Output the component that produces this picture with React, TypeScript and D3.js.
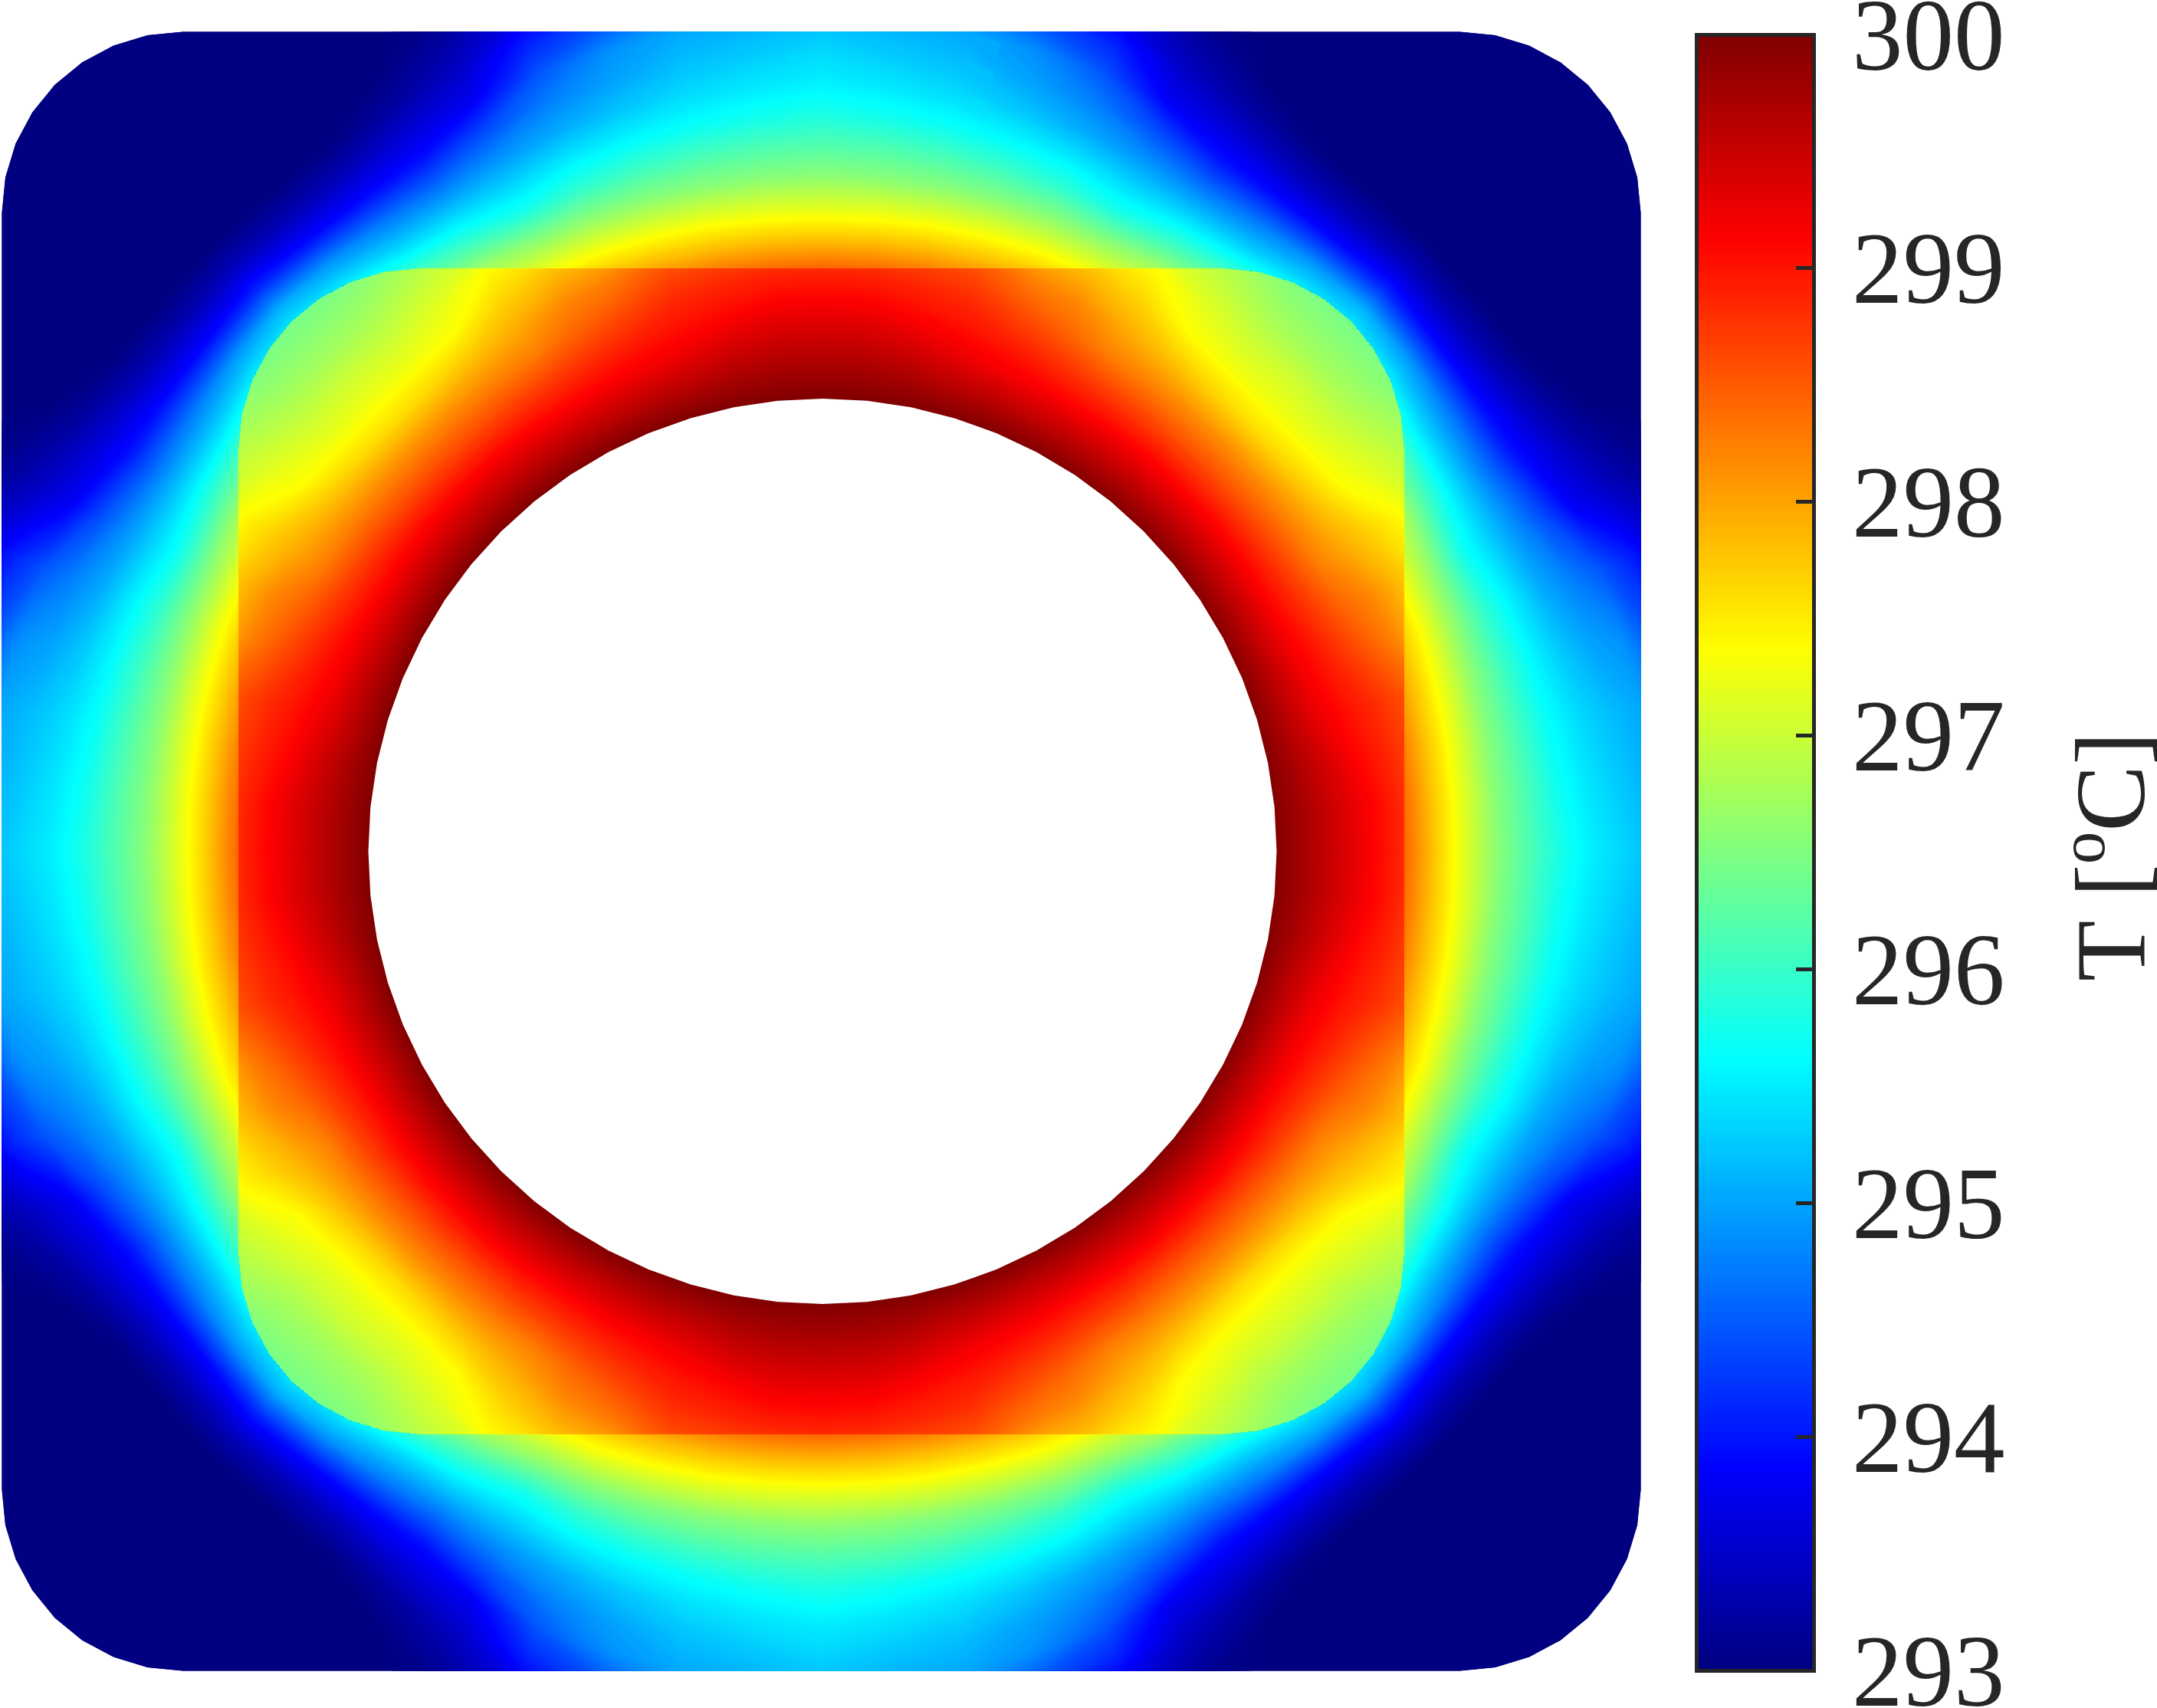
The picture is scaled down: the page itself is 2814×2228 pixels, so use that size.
// App.tsx - temperature field around a heated pipe in a rounded square, jet colormap
import React, { useMemo } from "react";
import * as d3 from "d3";

const WIDTH = 2814;
const HEIGHT = 2228;
const CX = 1071.5;
const CY = 1110.5;

// jet colormap, temperature stops and their colours
const jetStops = [293, 293.875, 295.625, 297.375, 299.125, 300];
const jetColors = ["#000080", "#0000ff", "#00ffff", "#ffff00", "#ff0000", "#800000"];

const colorbarTicks = [293, 294, 295, 296, 297, 298, 299, 300];

// angle from the nearest axis (degrees), the field repeats every 90 and mirrors at 45
const foldAngles = [0, 5, 10, 15, 20, 25, 30, 35, 40, 45];

// temperature, inside the rounded square. one row per radius
const innerRadii = [560, 590, 630, 670, 710, 750, 790, 830, 870, 910, 950, 990];
const innerField = [
  [300, 300, 300, 300, 300, 300, 300, 300, 300, 300],
  [300, 300, 300, 300, 300, 300, 300, 300, 300, 300],
  [299.74, 299.74, 299.7, 299.62, 299.6, 299.55, 299.55, 299.55, 299.55, 299.55],
  [299.47, 299.47, 299.4, 299.28, 299.2, 299.15, 299.1, 299.1, 299.1, 299.08],
  [299.2, 299.2, 299.1, 299.02, 298.92, 298.8, 298.7, 298.65, 298.6, 298.6],
  [298.93, 298.92, 298.87, 298.82, 298.62, 298.45, 298.25, 298.2, 298.15, 298.13],
  [298.6, 298.6, 298.6, 298.55, 298.3, 298.2, 297.95, 297.78, 297.65, 297.6],
  [298.3, 298.3, 298.25, 298.2, 297.9, 297.85, 297.68, 297.38, 297.28, 297.27],
  [298, 298, 297.95, 297.85, 297.6, 297.5, 297.42, 297.18, 297.03, 297.05],
  [297.7, 297.7, 297.65, 297.5, 297.3, 297.2, 297.1, 296.95, 296.78, 296.75],
  [297.4, 297.4, 297.35, 297.2, 297, 296.9, 296.85, 296.75, 296.58, 296.55],
  [297.1, 297.1, 297, 296.9, 296.7, 296.6, 296.55, 296.55, 296.4, 296.4],
];

// temperature outside the rounded square
const outerRadii = [720, 760, 800, 840, 880, 920, 960, 1000, 1040, 1080, 1120, 1160, 1200, 1240, 1280, 1460];
const outerField = [
  [299, 299, 299, 299, 299, 299, 299, 299, 299, 299],
  [298.45, 298.45, 298.45, 298.45, 298.45, 298.45, 298.45, 298.45, 298.45, 298.45],
  [297.77, 297.78, 297.8, 297.82, 297.85, 297.88, 297.9, 297.9, 297.9, 297.9],
  [297.16, 297.18, 297.2, 297.22, 297.25, 297.25, 297.25, 297.25, 297.25, 297.25],
  [296.6, 296.58, 296.57, 296.57, 296.57, 296.55, 296.7, 296.7, 296.7, 296.7],
  [296.19, 296.17, 296.12, 296.05, 295.95, 295.78, 295.95, 296.1, 296.3, 296.3],
  [295.82, 295.75, 295.68, 295.6, 295.5, 295.32, 295.3, 295.35, 295.6, 295.68],
  [295.55, 295.48, 295.4, 295.25, 295.05, 294.85, 294.65, 294.7, 294.9, 295.1],
  [295.37, 295.28, 295.2, 295, 294.75, 294.35, 294, 293.92, 293.93, 294.1],
  [295.2, 295.1, 295.05, 294.85, 294.45, 293.78, 293.6, 293.4, 293.35, 293.42],
  [295, 294.9, 294.75, 294.4, 294.1, 293.5, 293.22, 293.03, 293, 293],
  [294.8, 294.6, 294.4, 294, 293.7, 293.25, 293.02, 293, 293, 293],
  [294.6, 294.3, 294, 293.7, 293.4, 293.08, 293, 293, 293, 293],
  [294.4, 294, 293.7, 293.4, 293.1, 293, 293, 293, 293, 293],
  [294.2, 293.8, 293.4, 293.1, 293, 293, 293, 293, 293, 293],
  [293, 293, 293, 293, 293, 293, 293, 293, 293, 293],
];

const color = d3.scaleLinear<string>().domain(jetStops).range(jetColors).clamp(true);
const levels = d3.range(292.98, 300, 0.02);

// contour a polar table with d3, then bend the contours round the centre
function polarBands(radii: number[], field: number[][]) {
  const step = foldAngles[1] - foldAngles[0];
  const angles = d3.range(0, 375, step);
  const values: number[] = [];
  radii.forEach((_, j) => {
    angles.forEach((a) => {
      const q = a % 90;
      const fold = Math.min(q, 90 - q);
      values.push(field[j][foldAngles.indexOf(fold)]);
    });
  });
  const rScale = d3.scaleLinear().domain(d3.range(radii.length)).range(radii);
  const toPixel = d3.geoTransform({
    point(x: number, y: number) {
      const a = ((x - 0.5) * step * Math.PI) / 180;
      const r = rScale(y - 0.5);
      this.stream.point(CX + r * Math.sin(a), CY - r * Math.cos(a));
    },
  });
  const path = d3.geoPath(toPixel);
  return d3
    .contours()
    .size([angles.length, radii.length])
    .thresholds(levels)(values)
    .map((c) => ({ value: c.value, d: path(c) || "" }))
    .filter((b) => b.d);
}

// the mesh makes the round corners into short straight pieces
function roundedSquare(half: number, radius: number, pieces: number) {
  const pts: [number, number][] = [];
  [[1, -1, -90], [1, 1, 0], [-1, 1, 90], [-1, -1, 180]].forEach(([sx, sy, start]) => {
    d3.range(pieces + 1).forEach((k) => {
      const a = ((start + (k * 90) / pieces) * Math.PI) / 180;
      pts.push([
        CX + sx * (half - radius) + radius * Math.cos(a),
        CY + sy * (half - radius) + radius * Math.sin(a),
      ]);
    });
  });
  return d3.line()(pts) + "Z";
}

function holePolygon(cx: number, rx: number, ry: number, sides: number) {
  const pts = d3.range(sides).map((k): [number, number] => {
    const a = (k / sides) * 2 * Math.PI;
    return [cx + rx * Math.cos(a), CY + ry * Math.sin(a)];
  });
  return d3.line()(pts) + "Z";
}

export default function App() {
  const outerBands = useMemo(() => polarBands(outerRadii, outerField), []);
  const innerBands = useMemo(() => polarBands(innerRadii, innerField), []);

  const barY = d3.scaleLinear().domain([293, 300]).range([2179.5, 45]);
  const barStrips = d3.range(293, 300, 0.02);
  const ink = "#262626";
  const serif = "'Liberation Serif', serif";

  return (
    <svg width={WIDTH} height={HEIGHT} style={{ position: "absolute", left: 0, top: 0, background: "#fff" }}>
      <defs>
        <clipPath id="outerClip">
          <path d={roundedSquare(1069, 236, 8)} />
        </clipPath>
        <clipPath id="innerClip">
          <path d={roundedSquare(760, 236, 8)} />
        </clipPath>
      </defs>

      <g clipPath="url(#outerClip)" shapeRendering="crispEdges">
        {outerBands.map((b) => (
          <path key={b.value} d={b.d} fill={color(b.value + 0.01)} />
        ))}
      </g>
      <g clipPath="url(#innerClip)" shapeRendering="crispEdges">
        {innerBands.map((b) => (
          <path key={b.value} d={b.d} fill={color(b.value + 0.01)} />
        ))}
      </g>
      <path d={holePolygon(1073, 592.5, 590.5, 64)} fill="#fff" />

      {/* colour bar */}
      <g shapeRendering="crispEdges">
        {barStrips.map((v) => (
          <rect
            key={v}
            x={2214}
            width={152}
            y={barY(v + 0.02)}
            height={Math.abs(barY(v) - barY(v + 0.02)) + 1}
            fill={color(v + 0.01)}
          />
        ))}
        <rect x={2213.5} y={45.5} width={153} height={2134} fill="none" stroke={ink} strokeWidth={5} />
        {colorbarTicks.slice(1, -1).map((t) => (
          <line key={t} x1={2343} x2={2364} y1={barY(t)} y2={barY(t)} stroke={ink} strokeWidth={5} />
        ))}
      </g>
      {colorbarTicks.map((t) => (
        <text key={t} x={2416} y={barY(t) + 45.5} fontFamily={serif} fontSize={133} fill={ink}>
          {t}
        </text>
      ))}
      <text transform="translate(2797,1280) rotate(-90)" fontFamily={serif} fontSize={130} fill={ink}>
        T [
        <tspan fontSize={85} dy={-52}>
          o
        </tspan>
        <tspan dy={52}>C]</tspan>
      </text>
    </svg>
  );
}
